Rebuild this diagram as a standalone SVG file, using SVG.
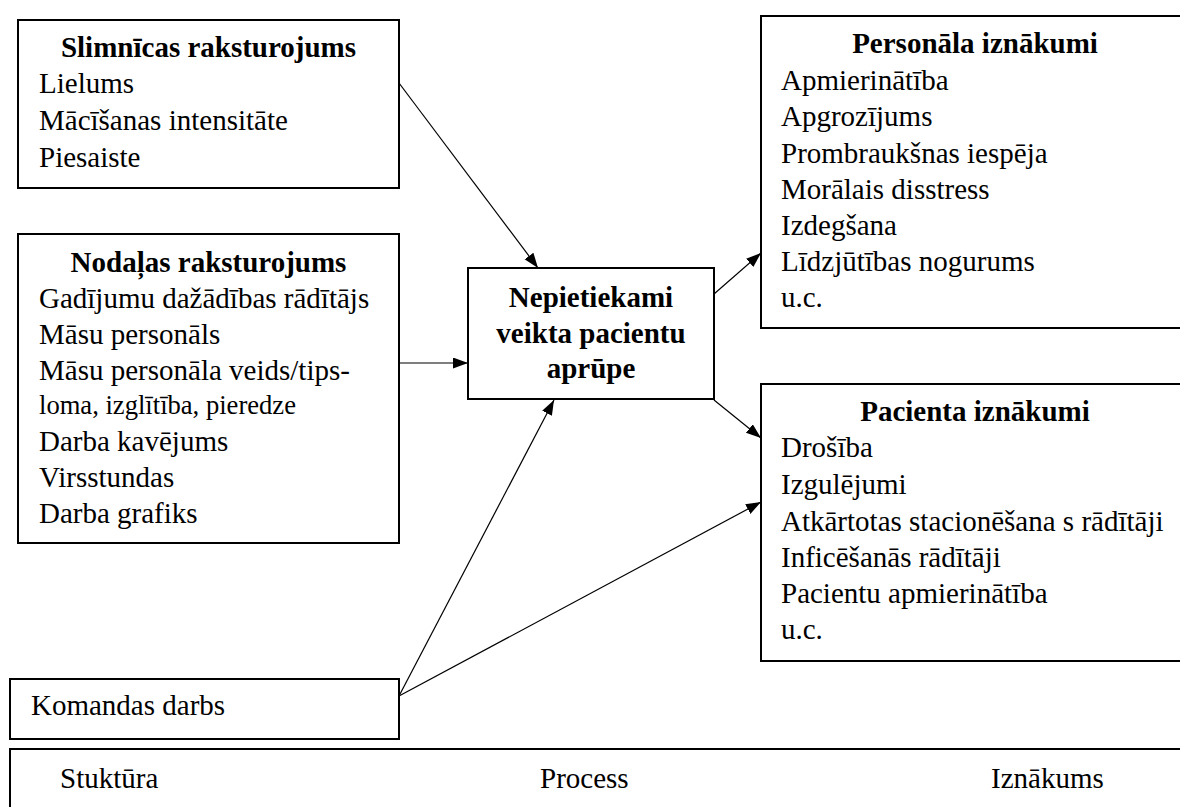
<svg xmlns="http://www.w3.org/2000/svg" width="1180" height="807" viewBox="0 0 1180 807">
<style>
  .box { fill: #ffffff; stroke: #000000; stroke-width: 2; }
  text { font-family: 'Liberation Serif', 'Times New Roman', 'DejaVu Serif', serif; font-size: 29px; fill: #000000; }
  .b { font-weight: bold; text-anchor: middle; }
  .s { font-size: 26.6px; }
  .conn { stroke: #000000; stroke-width: 1.2; fill: none; marker-end: url(#arr); }
</style>
<defs>
  <marker id="arr" markerUnits="userSpaceOnUse" markerWidth="16" markerHeight="12" refX="15" refY="5.5" orient="auto">
    <path d="M0,0 L15,5.5 L0,11 Z" fill="#000000"/>
  </marker>
</defs>
<rect width="1180" height="807" fill="#ffffff"/>

<g id="connectors">
  <line class="conn" x1="399" y1="83" x2="538" y2="268"/>
  <line class="conn" x1="399" y1="363" x2="468" y2="363"/>
  <line class="conn" x1="399" y1="696" x2="554" y2="400"/>
  <line class="conn" x1="714" y1="294" x2="761" y2="253"/>
  <line class="conn" x1="714" y1="400" x2="761" y2="438"/>
  <line class="conn" x1="399" y1="696" x2="761" y2="502"/>
</g>

<g font-family="Liberation Serif, serif">
<g id="slimnicas">
  <rect class="box" x="18" y="20" width="381" height="168"/>
  <text class="b" x="208.5" y="57">Slimnīcas raksturojums</text>
  <text x="39" y="93">Lielums</text>
  <text x="39" y="130">Mācīšanas intensitāte</text>
  <text x="39" y="167">Piesaiste</text>
</g>

<g id="nodalas">
  <rect class="box" x="18" y="234" width="381" height="309"/>
  <text class="b" x="208.5" y="272">Nodaļas raksturojums</text>
  <text x="39" y="308">Gadījumu dažādības rādītājs</text>
  <text x="39" y="344">Māsu personāls</text>
  <text x="39" y="380">Māsu personāla veids/tips-</text>
  <text class="s" x="39" y="414">loma, izglītība, pieredze</text>
  <text x="39" y="451">Darba kavējums</text>
  <text x="39" y="487">Virsstundas</text>
  <text x="39" y="523">Darba grafiks</text>
</g>

<g id="aprupe">
  <rect class="box" x="468" y="268" width="246" height="131"/>
  <text class="b" x="591" y="307">Nepietiekami</text>
  <text class="b" x="591" y="343">veikta pacientu</text>
  <text class="b" x="591" y="378">aprūpe</text>
</g>

<g id="personala">
  <rect class="box" x="761" y="16" width="440" height="312"/>
  <text class="b" x="975" y="53">Personāla iznākumi</text>
  <text x="781" y="90">Apmierinātība</text>
  <text x="781" y="126">Apgrozījums</text>
  <text x="781" y="163">Prombraukšnas iespēja</text>
  <text x="781" y="199">Morālais disstress</text>
  <text x="781" y="235">Izdegšana</text>
  <text x="781" y="271">Līdzjūtības nogurums</text>
  <text x="781" y="307">u.c.</text>
</g>

<g id="pacienta">
  <rect class="box" x="761" y="384" width="440" height="277"/>
  <text class="b" x="975" y="421">Pacienta iznākumi</text>
  <text x="781" y="457">Drošība</text>
  <text x="781" y="494">Izgulējumi</text>
  <text x="781" y="531">Atkārtotas stacionēšana s rādītāji</text>
  <text x="781" y="567">Inficēšanās rādītāji</text>
  <text x="781" y="603">Pacientu apmierinātība</text>
  <text x="781" y="639">u.c.</text>
</g>

<g id="komandas">
  <rect class="box" x="10" y="679" width="389" height="60"/>
  <text x="31" y="715">Komandas darbs</text>
</g>

<g id="legend">
  <rect class="box" x="10" y="749" width="1190" height="80"/>
  <text x="60" y="788">Stuktūra</text>
  <text x="540" y="788">Process</text>
  <text x="991" y="788">Iznākums</text>
</g>
</g>
</svg>
